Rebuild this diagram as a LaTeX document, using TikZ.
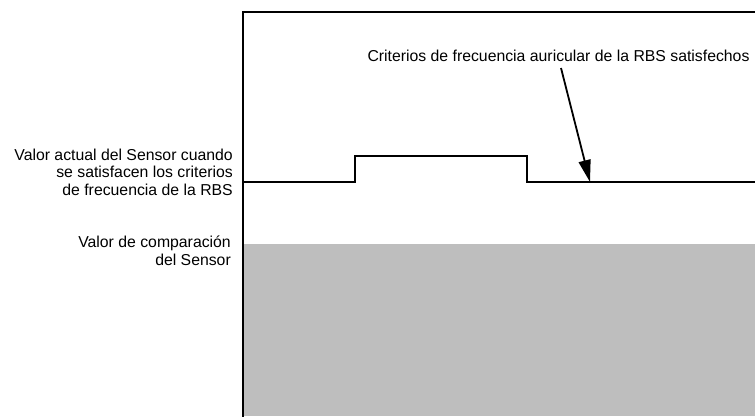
\documentclass[tikz,border=0pt]{standalone}
\usepackage{fontspec}
\setmainfont{Liberation Sans}
\usetikzlibrary{arrows.meta}
\definecolor{zonegray}{RGB}{190,190,190}
\tikzset{
  axisline/.style={line width=2pt, line join=miter, line cap=rect},
  signalline/.style={line width=2pt, line join=miter},
  lbl/.style={inner sep=0pt, font=\fontsize{15.8}{17.5}\selectfont},
  pointer/.style={line width=1.8pt, -{Triangle[length=22pt,width=12pt]}}
}
\begin{document}
\begin{tikzpicture}[x=1pt,y=1pt]
\useasboundingbox (0,0) rectangle (755,416);
% gray comparison zone
\fill[zonegray] (244,0) rectangle (755,172);
% axes
\coordinate (origin) at (243,0);
\coordinate (corner) at (243,404);
\coordinate (topright) at (756,404);
\draw[axisline] (origin) -- (corner) -- (topright);
% signal
\coordinate (s0) at (243,234);
\coordinate (s1) at (355,234);
\coordinate (s2) at (355,260);
\coordinate (s3) at (527,260);
\coordinate (s4) at (527,234);
\coordinate (s5) at (756,234);
\draw[signalline] (s0) -- (s1) -- (s2) -- (s3) -- (s4) -- (s5);
% labels
\node[lbl, anchor=base] (crit) at (558.5,354) {Criterios de frecuencia auricular de la RBS satisfechos};
\node[lbl, anchor=base east, align=right] (actual) at (233,221) {Valor actual del Sensor cuando\\se satisfacen los criterios\\de frecuencia de la RBS};
\node[lbl, anchor=base east, align=right] (comp) at (231,151) {Valor de comparación\\del Sensor};
% arrow
\coordinate (arrstart) at (561,348);
\coordinate (arrtip) at (590,234);
\draw[pointer] (arrstart) -- (arrtip);
\end{tikzpicture}
\end{document}
